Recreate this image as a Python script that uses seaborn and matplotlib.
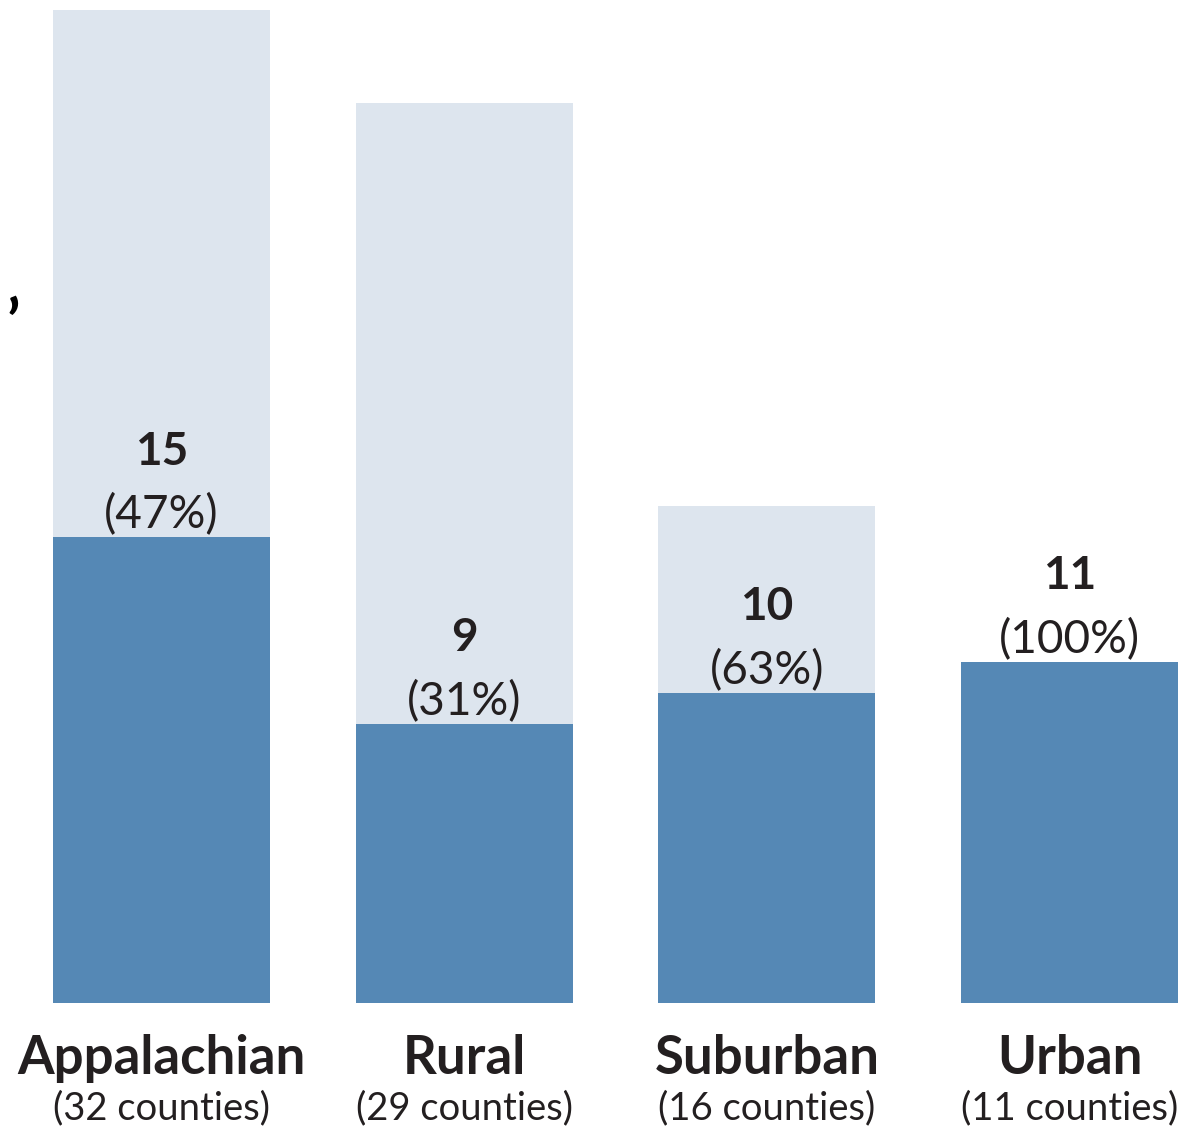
import pandas as pd
import seaborn as sns
import matplotlib.pyplot as plt

# counties by region type
regions = ['Appalachian', 'Rural', 'Suburban', 'Urban']
total_counties = [32, 29, 16, 11]
counties_with = [15, 9, 10, 11]
pct_labels = ['47%', '31%', '63%', '100%']

df = pd.DataFrame({'region': regions, 'total': total_counties, 'count': counties_with})

sns.set_theme(style='white')
plt.rcParams['font.family'] = ['Lato', 'DejaVu Sans']

fig = plt.figure(figsize=(11.88, 11.27), dpi=100)
ax = fig.add_axes([0, 124 / 1127, 1, 1003 / 1127])

bar_w = 0.717
sns.barplot(data=df, x='region', y='total', color='#dde5ee', saturation=1,
            width=bar_w, linewidth=0, ax=ax)
sns.barplot(data=df, x='region', y='count', color='#5588b5', saturation=1,
            width=bar_w, linewidth=0, ax=ax)

ax.set_xlim(-0.5336, 3.3915)
ax.set_ylim(0, 32.32)
ax.axis('off')

txt = '#231f20'
for i, (n, p) in enumerate(zip(counties_with, pct_labels)):
    ax.text(i, n + 0.72, f'({p})', ha='center', va='center', fontsize=33,
            color=txt, fontweight='normal')
    ax.text(i, n + 2.75, str(n), ha='center', va='center', fontsize=33,
            color=txt, fontweight='bold')

    ax.text(i, -1.8, regions[i], ha='center', va='center', fontsize=38,
            color=txt, fontweight='bold')
    ax.text(i, -3.38, f'({total_counties[i]} counties)', ha='center', va='center',
            fontsize=27.5, color=txt)

# stray tick mark at the left edge
fig.text(0.011, 0.712, '\u2019', fontsize=44, fontweight='bold', color='black',
         ha='center', va='center')

plt.savefig('out.png', dpi=100, facecolor='white')
